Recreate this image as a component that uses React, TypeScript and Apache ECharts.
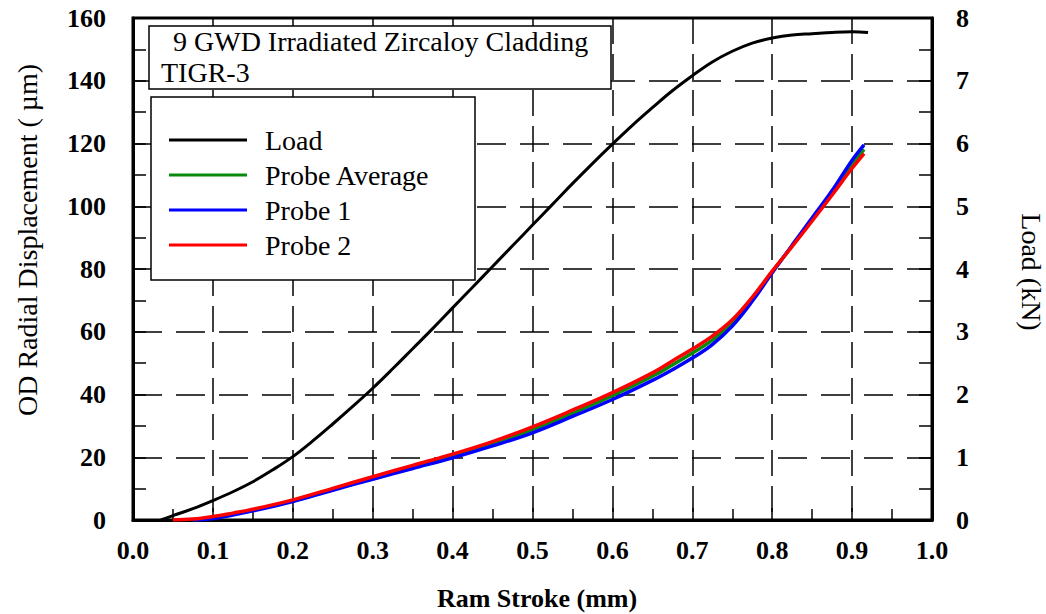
import React, { useEffect, useRef } from "react";
import * as echarts from "echarts";

// ---- data ----
const loadStroke = [0.035, 0.05, 0.075, 0.1, 0.125, 0.15, 0.175, 0.2, 0.225, 0.25, 0.275, 0.3, 0.325, 0.35, 0.375, 0.4, 0.425, 0.45, 0.475, 0.5, 0.525, 0.55, 0.575, 0.6, 0.625, 0.65, 0.675, 0.7, 0.725, 0.75, 0.775, 0.8, 0.825, 0.85, 0.875, 0.9, 0.92];
const loadKN = [0, 0.07, 0.18, 0.31, 0.45, 0.61, 0.8, 1.01, 1.26, 1.53, 1.81, 2.1, 2.41, 2.73, 3.05, 3.38, 3.71, 4.04, 4.37, 4.7, 5.03, 5.36, 5.68, 5.99, 6.29, 6.57, 6.84, 7.08, 7.3, 7.47, 7.6, 7.68, 7.73, 7.75, 7.77, 7.78, 7.77];

const probeStroke = [0.05, 0.075, 0.1, 0.125, 0.15, 0.2, 0.25, 0.3, 0.35, 0.4, 0.45, 0.5, 0.55, 0.6, 0.65, 0.675, 0.7, 0.725, 0.75, 0.775, 0.8, 0.825, 0.85, 0.875, 0.9, 0.915];
const probeAvg = [null, 0.1, 0.8, 1.9, 3.1, 6.1, 9.8, 13.4, 16.9, 20.4, 24.3, 28.8, 34.0, 39.6, 45.8, 49.4, 53.2, 57.3, 62.8, 70.3, 79.0, 87.4, 95.8, 104.3, 113.3, 118.1];
const probe1 = [null, 0, 0.5, 1.6, 2.9, 5.9, 9.5, 13.0, 16.4, 19.8, 23.6, 27.8, 33.0, 38.4, 44.5, 47.9, 51.6, 55.9, 61.8, 69.7, 78.8, 87.6, 96.3, 105.0, 114.7, 119.6];
const probe2 = [0, 0.3, 1.1, 2.2, 3.4, 6.4, 10.1, 13.8, 17.4, 21.0, 25.0, 29.7, 35.0, 40.6, 46.9, 50.7, 54.5, 58.6, 63.8, 71.0, 79.3, 87.2, 95.3, 103.6, 112.1, 116.8];

const seriesNames = ["Load", "Probe Average", "Probe 1", "Probe 2"];
const seriesColors = ["#000000", "#0a8a0a", "#0000ff", "#ff0000"];
const titleLines = ["9 GWD Irradiated Zircaloy Cladding", "TIGR-3"];
const xAxisTitle = "Ram Stroke (mm)";
const yLeftTitle = "OD Radial Displacement ( µm)";
const yRightTitle = "Load (kN)";

const FONT = '"Liberation Serif", "Times New Roman", serif';

function pairs(xs: number[], ys: (number | null)[]) {
  const out: any[] = [];
  xs.forEach((x, i) => {
    if (ys[i] !== null && ys[i] !== undefined) out.push([x, ys[i]]);
  });
  return out;
}

export default function App() {
  const ref = useRef<HTMLDivElement>(null);
  useEffect(() => {
    if (!ref.current) return;
    const chart = echarts.init(ref.current, null, { renderer: "svg" });
    const GL = 133, GT = 18, GW = 799, GH = 502;
    const tickLabel = { color: "#000", fontFamily: FONT, fontWeight: "bold" as const, fontSize: 26 };
    const lineSeries = (i: number, yIdx: number, xs: number[], ys: (number | null)[], w: number) => ({
      name: seriesNames[i], type: "line", yAxisIndex: yIdx, data: pairs(xs, ys),
      showSymbol: false, symbol: "none", smooth: 0.4,
      lineStyle: { color: seriesColors[i], width: w }, itemStyle: { color: seriesColors[i] },
    });
    chart.setOption({
      animation: false,
      backgroundColor: "#fff",
      grid: { left: GL, top: GT, width: GW, height: GH, show: true, borderColor: "#000", borderWidth: 3, backgroundColor: "transparent" },
      xAxis: {
        type: "value", min: 0, max: 1, interval: 0.1,
        axisLine: { show: true, lineStyle: { color: "#000", width: 3 } },
        axisTick: { show: true, inside: true, length: 12, lineStyle: { color: "#000", width: 1.5 } },
        minorTick: { show: true, splitNumber: 2, length: 11, lineStyle: { color: "#000", width: 1.5 } },
        axisLabel: { ...tickLabel, margin: 17, formatter: (v: number) => v.toFixed(1) },
        splitLine: { show: true, lineStyle: { color: "#000", width: 1.5, type: [26, 10] } },
      },
      yAxis: [
        {
          type: "value", min: 0, max: 160, interval: 20, position: "left",
          axisLine: { show: true, lineStyle: { color: "#000", width: 3 } },
          axisTick: { show: true, inside: true, length: 13, lineStyle: { color: "#000", width: 1.5 } },
          minorTick: { show: true, splitNumber: 2, length: 13, lineStyle: { color: "#000", width: 1.5 } },
          axisLabel: { ...tickLabel, margin: 27 },
          splitLine: { show: true, lineStyle: { color: "#000", width: 1.5, type: [29, 14] } },
        },
        {
          type: "value", min: 0, max: 8, interval: 1, position: "right",
          axisLine: { show: true, lineStyle: { color: "#000", width: 3 } },
          axisTick: { show: true, inside: true, length: 13, lineStyle: { color: "#000", width: 1.5 } },
          minorTick: { show: true, splitNumber: 2, length: 13, lineStyle: { color: "#000", width: 1.5 } },
          axisLabel: { ...tickLabel, margin: 24 },
          splitLine: { show: false },
        },
      ],
      legend: {
        show: true, orient: "vertical", left: 169, top: 126, padding: 0,
        itemWidth: 78, itemHeight: 3, itemGap: 7, icon: "rect",
        data: seriesNames,
        textStyle: { color: "#000", fontFamily: FONT, fontSize: 28, lineHeight: 28, padding: [0, 0, 0, 13] },
        z: 6,
      },
      series: [
        lineSeries(0, 1, loadStroke, loadKN, 3),
        lineSeries(1, 0, probeStroke, probeAvg, 3.5),
        lineSeries(2, 0, probeStroke, probe1, 3.5),
        lineSeries(3, 0, probeStroke, probe2, 3.5),
      ],
      graphic: [
        { type: "rect", z: 5, shape: { x: 149, y: 26, width: 462, height: 63 }, style: { fill: "#fff", stroke: "#000", lineWidth: 1.5 } },
        { type: "text", z: 6, x: 173, y: 41, style: { text: titleLines[0], fontFamily: FONT, fontSize: 28, fill: "#000", align: "left", verticalAlign: "middle" } },
        { type: "text", z: 6, x: 161, y: 72, style: { text: titleLines[1], fontFamily: FONT, fontSize: 28, fill: "#000", align: "left", verticalAlign: "middle" } },
        { type: "rect", z: 5, shape: { x: 151, y: 97, width: 324, height: 183 }, style: { fill: "#fff", stroke: "#000", lineWidth: 1.5 } },
        { type: "text", z: 6, x: 27, y: 240, rotation: Math.PI / 2, style: { text: yLeftTitle, fontFamily: FONT, fontSize: 28, fill: "#000", align: "center", verticalAlign: "middle" } },
        { type: "text", z: 6, x: 1031, y: 272, rotation: -Math.PI / 2, style: { text: yRightTitle, fontFamily: FONT, fontSize: 28, fill: "#000", align: "center", verticalAlign: "middle" } },
        { type: "text", z: 6, x: 537, y: 598, style: { text: xAxisTitle, fontFamily: FONT, fontSize: 26, fontWeight: "bold", fill: "#000", align: "center", verticalAlign: "middle" } },
      ],
    });
    return () => chart.dispose();
  }, []);
  return <div ref={ref} style={{ position: "fixed", left: 0, top: 0, width: 1046, height: 614 }} />;
}
